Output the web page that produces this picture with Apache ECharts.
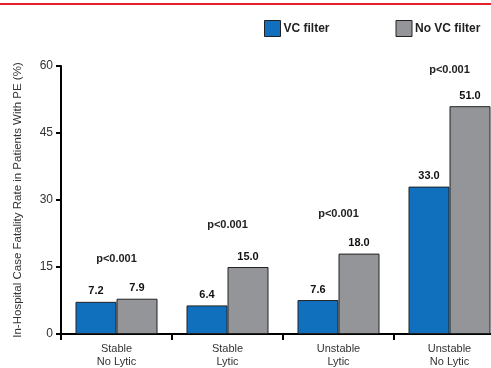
<!DOCTYPE html>
<html>
<head>
<meta charset="utf-8">
<script src="https://cdn.jsdelivr.net/npm/echarts@6/dist/echarts.min.js"></script>
<style>
html,body{margin:0;padding:0;background:#fff;overflow:hidden;}
#c{width:505px;height:368px;}
</style>
</head>
<body>
<div id="c"></div>
<script>
const categories = ['Stable\nNo Lytic', 'Stable\nLytic', 'Unstable\nLytic', 'Unstable\nNo Lytic'];
const vcFilter = [7.2, 6.4, 7.6, 33.0];
const noVcFilter = [7.9, 15.0, 18.0, 51.0];
const pLabels = ['p<0.001', 'p<0.001', 'p<0.001', 'p<0.001'];
const pLabelHeight = [16.7, 24.3, 26.8, 59.0];
const yTicks = [0, 15, 30, 45, 60];

const FONT = '"Liberation Sans", Arial, Helvetica, sans-serif';
const chart = echarts.init(document.getElementById('c'), null, {renderer: 'canvas'});

chart.setOption({
  animation: false,
  textStyle: {fontFamily: FONT},
  graphic: [{
    type: 'line',
    shape: {x1: 0, y1: 4, x2: 505, y2: 4},
    style: {stroke: '#e8202a', lineWidth: 2}
  }],
  legend: {
    left: 259, top: 15,
    icon: 'rect',
    itemWidth: 16, itemHeight: 16, itemGap: 66,
    itemStyle: {borderColor: '#222', borderWidth: 1},
    textStyle: {fontFamily: FONT, fontSize: 12, fontWeight: 'bold', color: '#222', padding: [0, 0, 0, -2]},
    data: ['VC filter', 'No VC filter']
  },
  grid: {left: 61, top: 66, right: 0, bottom: 31, containLabel: false},
  xAxis: {
    type: 'category',
    data: categories,
    axisLine: {lineStyle: {color: '#000', width: 2}},
    axisTick: {show: true, inside: false, length: 6, alignWithLabel: false, lineStyle: {color: '#000', width: 2}},
    axisLabel: {fontFamily: FONT, fontSize: 11, color: '#333', lineHeight: 13, margin: 8, interval: 0}
  },
  yAxis: {
    type: 'value', min: 0, max: 60, interval: 15,
    name: 'In-Hospital Case Fatality Rate in Patients With PE (%)',
    nameLocation: 'middle', nameGap: 37,
    nameTextStyle: {fontFamily: FONT, fontSize: 11.5, color: '#333'},
    splitLine: {show: false},
    axisLine: {show: true, lineStyle: {color: '#000', width: 2}},
    axisTick: {show: true, length: 5, lineStyle: {color: '#000', width: 2}},
    axisLabel: {
      fontFamily: FONT, fontSize: 12, color: '#333', margin: 8,
      formatter: v => yTicks.includes(v) ? String(v) : ''
    }
  },
  series: [
    {
      name: 'VC filter', type: 'bar', data: vcFilter,
      barWidth: 41, barGap: '0%',
      itemStyle: {color: '#1170be', borderColor: '#222', borderWidth: 1},
      label: {show: true, position: 'top', distance: 5, fontFamily: FONT, fontSize: 11, fontWeight: 'bold', color: '#111',
        formatter: p => p.value.toFixed(1)}
    },
    {
      name: 'No VC filter', type: 'bar', data: noVcFilter,
      barWidth: 41, barGap: '0%',
      itemStyle: {color: '#939598', borderColor: '#222', borderWidth: 1},
      label: {show: true, position: 'top', distance: 5, fontFamily: FONT, fontSize: 11, fontWeight: 'bold', color: '#111',
        formatter: p => p.value.toFixed(1)}
    },
    {
      name: 'p', type: 'scatter', symbolSize: 0, silent: true,
      itemStyle: {opacity: 1},
      data: pLabelHeight.map((h, i) => [categories[i], h]),
      label: {show: true, position: 'inside', fontFamily: FONT, fontSize: 11, fontWeight: 'bold', color: '#222',
        formatter: p => pLabels[p.dataIndex]}
    }
  ]
});
</script>
</body>
</html>
